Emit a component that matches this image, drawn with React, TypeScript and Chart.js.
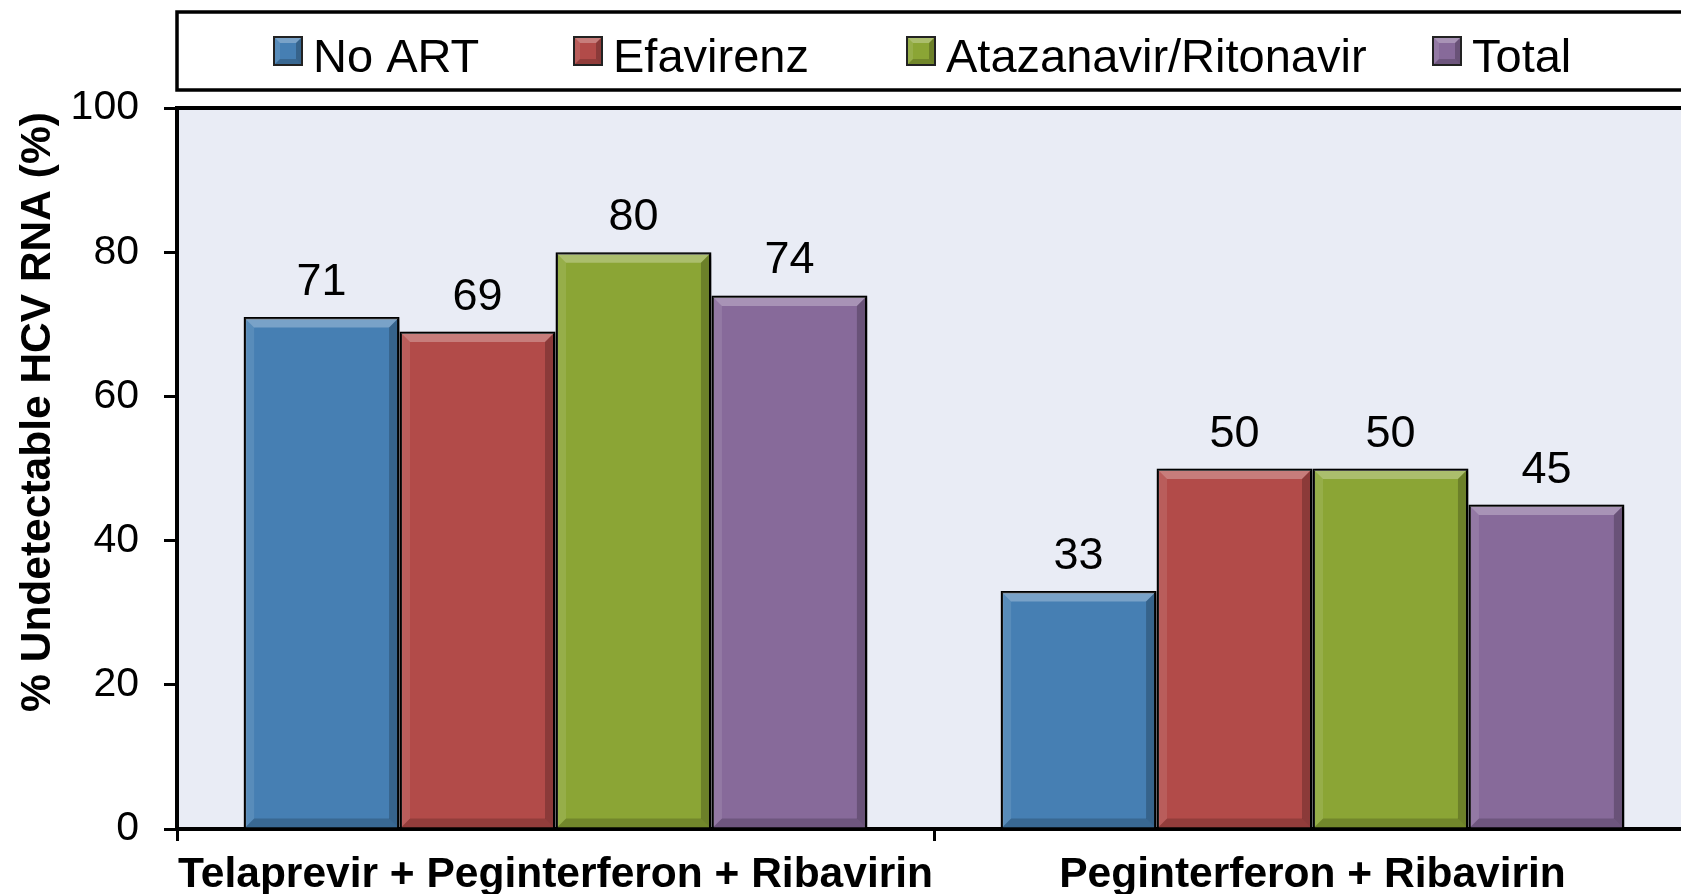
import React, { useEffect, useRef } from "react";
import { Chart, registerables } from "chart.js";

Chart.register(...registerables);

// ---- data ----
const categories = ["Telaprevir + Peginterferon + Ribavirin", "Peginterferon + Ribavirin"];
const seriesNames = ["No ART", "Efavirenz", "Atazanavir/Ritonavir", "Total"];
const noArt = [71, 33];
const efavirenz = [69, 50];
const atazanavir = [80, 50];
const total = [74, 45];
const yMin = 0;
const yMax = 100;
const yStep = 20;
const yTitle = "% Undetectable HCV RNA (%)";

// ---- styles / layout ----
const colors = ["#467FB3", "#B24B49", "#8BA535", "#876A9A"];
const plotBg = "#E9ECF5";
const FONT = "'Liberation Sans', Arial, sans-serif";
const CANVAS_W = 1691;
const CANVAS_H = 894;
const legendTextX = [313, 613, 946, 1472];

function bevel(ctx: CanvasRenderingContext2D, l: number, t: number, r: number, b: number, s: number) {
  const poly = (pts: number[][], fill: string) => {
    ctx.beginPath();
    ctx.moveTo(pts[0][0], pts[0][1]);
    for (let i = 1; i < pts.length; i++) ctx.lineTo(pts[i][0], pts[i][1]);
    ctx.closePath();
    ctx.fillStyle = fill;
    ctx.fill();
  };
  poly([[l, t], [r, t], [r - s, t + s], [l + s, t + s]], "rgba(255,255,255,0.28)");
  poly([[l, t], [l + s, t + s], [l + s, b - s], [l, b]], "rgba(255,255,255,0.10)");
  poly([[r, t], [r, b], [r - s, b - s], [r - s, t + s]], "rgba(0,0,0,0.22)");
  poly([[l, b], [r, b], [r - s, b - s], [l + s, b - s]], "rgba(0,0,0,0.18)");
}

const decorPlugin = {
  id: "decor",
  beforeDraw(chart: any) {
    const { ctx, chartArea: a } = chart;
    ctx.save();
    ctx.fillStyle = "#ffffff";
    ctx.fillRect(0, 0, chart.width, chart.height);
    ctx.fillStyle = plotBg;
    ctx.fillRect(a.left, a.top, a.right - a.left, a.bottom - a.top);
    ctx.restore();
  },
  beforeDatasetsDraw(chart: any) {
    const ctx = chart.ctx;
    ctx.save();
    ctx.shadowColor = "rgba(0,0,0,0.45)";
    ctx.shadowBlur = 7;
    ctx.shadowOffsetX = 4;
    ctx.shadowOffsetY = 2;
  },
  afterDatasetsDraw(chart: any) {
    const ctx = chart.ctx;
    ctx.restore();
    ctx.save();
    chart.data.datasets.forEach((ds: any, i: number) => {
      const meta = chart.getDatasetMeta(i);
      meta.data.forEach((el: any, j: number) => {
        const w = el.width;
        const l = el.x - w / 2 + 1.5;
        const r = el.x + w / 2 - 1.5;
        const t = el.y + 1.5;
        const b = el.base;
        bevel(ctx, l, t, r, b, 9);
        ctx.fillStyle = "#000";
        ctx.font = `45px ${FONT}`;
        ctx.textAlign = "center";
        ctx.textBaseline = "alphabetic";
        ctx.fillText(String(ds.data[j]), el.x, el.y - 22);
      });
    });
    ctx.restore();
  },
  afterDraw(chart: any) {
    const { ctx, chartArea: a } = chart;
    ctx.save();
    // top border of plot area
    ctx.strokeStyle = "#000";
    ctx.lineWidth = 4;
    ctx.beginPath();
    ctx.moveTo(a.left - 2, a.top);
    ctx.lineTo(chart.width + 5, a.top);
    ctx.stroke();
    // legend box
    ctx.lineWidth = 3.5;
    ctx.strokeRect(177, 12, chart.width + 20 - 177, 78);
    // legend items
    ctx.font = `47px ${FONT}`;
    ctx.textAlign = "left";
    ctx.textBaseline = "alphabetic";
    chart.data.datasets.forEach((ds: any, i: number) => {
      const tx = legendTextX[i];
      const sx = tx - 39;
      const sy = 37;
      ctx.fillStyle = ds.backgroundColor;
      ctx.fillRect(sx, sy, 28, 28);
      bevel(ctx, sx, sy, sx + 28, sy + 28, 6);
      ctx.lineWidth = 2;
      ctx.strokeStyle = "#222";
      ctx.strokeRect(sx, sy, 28, 28);
      ctx.fillStyle = "#000";
      ctx.fillText(ds.label, tx, 72);
    });
    // y title
    ctx.translate(50, 412);
    ctx.rotate(-Math.PI / 2);
    ctx.font = `bold 42.5px ${FONT}`;
    ctx.textAlign = "center";
    ctx.textBaseline = "alphabetic";
    ctx.fillStyle = "#000";
    ctx.fillText(yTitle, 0, 0);
    ctx.restore();
  },
};

export default function App() {
  const ref = useRef<HTMLCanvasElement | null>(null);
  useEffect(() => {
    const canvas = ref.current;
    if (!canvas) return;
    const seriesValues = [noArt, efavirenz, atazanavir, total];
    const chart = new Chart(canvas, {
      type: "bar",
      data: {
        labels: categories,
        datasets: seriesNames.map((name, i) => ({
          label: name,
          data: seriesValues[i],
          backgroundColor: colors[i],
          borderColor: "#000",
          borderWidth: 2.5,
          barPercentage: 1,
          categoryPercentage: 0.824,
        })),
      },
      options: {
        responsive: false,
        animation: false,
        devicePixelRatio: 1,
        layout: { padding: { top: 108, left: 0, right: 0, bottom: 0 } },
        plugins: {
          legend: { display: false },
          tooltip: { enabled: false },
          title: { display: false },
        },
        scales: {
          x: {
            type: "category",
            offset: true,
            grid: {
              offset: true,
              drawOnChartArea: false,
              drawTicks: true,
              tickLength: 12,
              color: "#000",
              lineWidth: 3,
            },
            border: { display: true, color: "#000", width: 4 },
            ticks: {
              color: "#000",
              font: { family: FONT, size: 42.5, weight: "bold" },
              padding: 9,
              maxRotation: 0,
              autoSkip: false,
            },
            afterFit: (s: any) => {
              s.height = 65;
            },
          },
          y: {
            min: yMin,
            max: yMax,
            ticks: {
              stepSize: yStep,
              color: "#000",
              font: { family: FONT, size: 41 },
              padding: 25,
            },
            grid: {
              drawOnChartArea: false,
              drawTicks: true,
              tickLength: 13,
              color: "#000",
              lineWidth: 3,
            },
            border: { display: true, color: "#000", width: 4 },
            afterFit: (s: any) => {
              s.width = 177;
            },
          },
        },
      },
      plugins: [decorPlugin],
    } as any);
    return () => chart.destroy();
  }, []);

  return (
    <div
      style={{
        position: "absolute",
        left: 0,
        top: 0,
        width: 1681,
        height: 894,
        overflow: "hidden",
        background: "#fff",
      }}
    >
      <canvas ref={ref} width={CANVAS_W} height={CANVAS_H} style={{ display: "block" }} />
    </div>
  );
}
